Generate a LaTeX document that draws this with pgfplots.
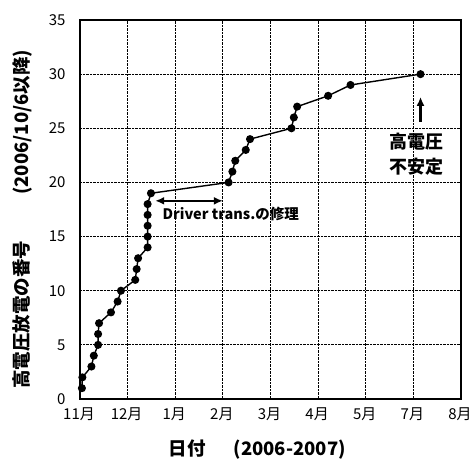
\documentclass[border=0pt]{standalone}
\usepackage{fontspec}
\setmainfont{Noto Sans CJK JP}
\usepackage{pgfplots}
\pgfplotsset{compat=1.18}
\usetikzlibrary{arrows.meta}
\begin{document}
\begin{tikzpicture}
\begin{axis}[
  scale only axis,
  width=381pt, height=379pt,
  xmin=0, xmax=8, ymin=0, ymax=35,
  xtick={0,1,2,3,4,5,6,7,8},
  xticklabels={11月,12月,1月,2月,3月,4月,5月,7月,8月},
  ytick={0,5,10,15,20,25,30,35},
  /pgf/number format/assume math mode=true,
  tick label style={font=\fontsize{15}{17}\selectfont},
  xticklabel style={yshift=-5pt, xshift=-1pt},
  yticklabel style={xshift=-11pt},
  major tick length=0pt,
  grid=major,
  grid style={black, densely dotted, line width=0.8pt},
  axis line style={line width=1.3pt},
  xlabel={\textbf{日付\hspace{28pt}(2006-2007)}},
  ylabel={\textbf{高電圧放電の番号\hspace{46pt}(2006/10/6以降)}},
  label style={font=\fontsize{18.5}{20}\selectfont},
  xlabel style={at={(axis description cs:0.465,-0.132)}, anchor=center},
  ylabel style={at={(axis description cs:-0.152,0.474)}, anchor=center},
  clip=false,
]
\addplot[black, line width=1.4pt, mark=*, mark size=3.3pt, mark options={fill=black}] coordinates {
(0.04,1) (0.05,2) (0.24,3) (0.29,4) (0.38,5) (0.38,6) (0.40,7) (0.65,8) (0.79,9) (0.86,10)
(1.16,11) (1.19,12) (1.22,13) (1.42,14) (1.42,15) (1.42,16) (1.42,17) (1.42,18) (1.49,19)
(3.12,20) (3.20,21) (3.26,22) (3.48,23) (3.57,24) (4.44,25) (4.49,26) (4.56,27) (5.21,28) (5.68,29) (7.15,30)
};
\draw[{Latex[length=9pt,width=8pt]}-{Latex[length=9pt,width=8pt]}, line width=1.9pt] (axis cs:1.58,18.3) -- (axis cs:3.0,18.3);
\node[anchor=west, font=\bfseries\fontsize{14.5}{16}\selectfont] at (axis cs:1.66,17.1) {Driver trans.の修理};
\draw[-{Latex[length=9pt,width=8pt]}, line width=2.2pt] (axis cs:7.15,25.6) -- (axis cs:7.15,27.9);
\node[align=center, font=\bfseries\fontsize{18}{25}\selectfont] at (axis cs:7.07,22.65) {高電圧\\不安定};
\coordinate (ll) at (rel axis cs:0,0);
\coordinate (ur) at (rel axis cs:1,1);
\end{axis}
\pgfresetboundingbox
\path ([shift={(-80pt,-61pt)}]ll) rectangle ([shift={(10pt,20pt)}]ur);
\end{tikzpicture}
\end{document}
